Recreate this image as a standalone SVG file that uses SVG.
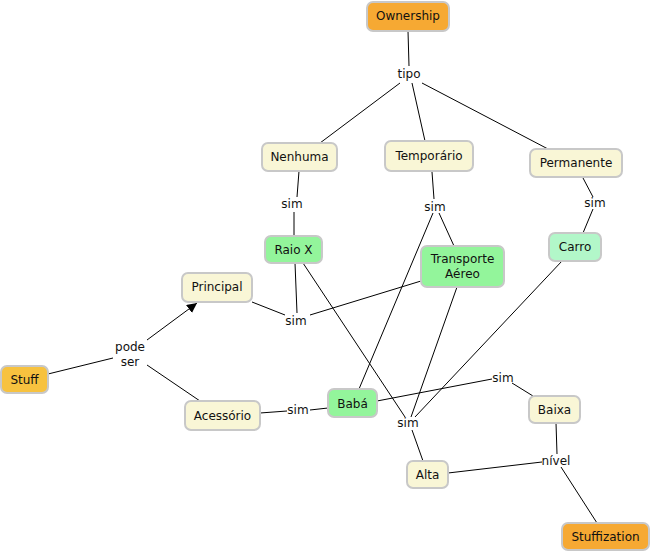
<svg xmlns="http://www.w3.org/2000/svg" width="652" height="552" viewBox="0 0 652 552">
<style>
text{font-family:"DejaVu Sans","Verdana",sans-serif;font-size:12px;fill:#111;text-anchor:middle;dominant-baseline:central}
.n rect{stroke:#c8c8c8;stroke-width:2}
.o rect{fill:#f6a933}
.s rect{fill:#f7c23f}
.y rect{fill:#f9f6d6}
.g rect{fill:#93f59b}
.c rect{fill:#b2f7c9}
#links line{stroke:#000;stroke-width:1}
.lbl{font-size:12px}
</style>
<defs>
<marker id="arr" viewBox="0 0 10 10" refX="10" refY="5" markerWidth="10" markerHeight="10" markerUnits="userSpaceOnUse" orient="auto">
<path d="M0,0 L10,5 L0,10 z" fill="#000"/>
</marker>
</defs>
<rect width="652" height="552" fill="#fff"/>
<g id="links">
<line x1="408" y1="31" x2="409" y2="66"/>
<line x1="400" y1="83" x2="320" y2="143"/>
<line x1="412" y1="83" x2="425" y2="141"/>
<line x1="422" y1="83" x2="548" y2="149"/>
<line x1="299" y1="171" x2="297" y2="197"/>
<line x1="294" y1="212" x2="294" y2="236"/>
<line x1="432" y1="172" x2="434" y2="199"/>
<line x1="439" y1="213" x2="454" y2="246"/>
<line x1="433" y1="213" x2="359" y2="389"/>
<line x1="583" y1="178" x2="593" y2="197"/>
<line x1="593" y1="209" x2="583" y2="233"/>
<line x1="295" y1="263" x2="297" y2="313"/>
<line x1="303" y1="263" x2="405" y2="417"/>
<line x1="252" y1="302" x2="285" y2="315"/>
<line x1="310" y1="315" x2="421" y2="281"/>
<line x1="48" y1="374" x2="113" y2="358"/>
<line x1="147" y1="340" x2="197" y2="303" marker-end="url(#arr)"/>
<line x1="147" y1="365" x2="200" y2="401"/>
<line x1="260" y1="413" x2="287" y2="411"/>
<line x1="310" y1="410" x2="328" y2="408"/>
<line x1="377" y1="401" x2="492" y2="379"/>
<line x1="512" y1="383" x2="533" y2="396"/>
<line x1="457" y1="287" x2="411" y2="417"/>
<line x1="562" y1="261" x2="415" y2="417"/>
<line x1="412" y1="430" x2="423" y2="461"/>
<line x1="448" y1="473" x2="542" y2="462"/>
<line x1="556" y1="423" x2="557" y2="454"/>
<line x1="561" y1="467" x2="597" y2="523"/>
</g>
<g id="labels">
<text x="409" y="74" class="lbl">tipo</text>
<text x="292" y="204" class="lbl">sim</text>
<text x="435" y="207" class="lbl">sim</text>
<text x="595" y="203" class="lbl">sim</text>
<text x="296" y="321" class="lbl">sim</text>
<text x="130" y="347" class="lbl">pode</text>
<text x="130" y="362" class="lbl">ser</text>
<text x="298" y="410" class="lbl">sim</text>
<text x="503" y="378" class="lbl">sim</text>
<text x="408" y="423" class="lbl">sim</text>
<text x="556" y="461" class="lbl">nível</text>
</g>
<g id="ownership" class="n o"><rect x="367" y="2" width="82" height="29" rx="6"/><text x="408" y="16">Ownership</text></g>
<g id="nenhuma" class="n y"><rect x="262" y="143" width="75" height="28" rx="6"/><text x="299.5" y="157">Nenhuma</text></g>
<g id="temporario" class="n y"><rect x="385" y="141" width="88" height="30" rx="6"/><text x="429" y="156">Temporário</text></g>
<g id="permanente" class="n y"><rect x="530" y="149" width="92" height="28" rx="6"/><text x="576" y="163">Permanente</text></g>
<g id="raiox" class="n g"><rect x="265" y="236" width="57" height="27" rx="6"/><text x="293.5" y="250">Raio X</text></g>
<g id="transporte" class="n g"><rect x="421" y="246" width="83" height="41" rx="6"/><text x="462.5" y="259">Transporte</text><text x="462.5" y="274">Aéreo</text></g>
<g id="carro" class="n c"><rect x="549" y="233" width="52" height="28" rx="6"/><text x="575" y="247">Carro</text></g>
<g id="principal" class="n y"><rect x="182" y="273" width="70" height="29" rx="6"/><text x="217" y="287">Principal</text></g>
<g id="stuff" class="n s"><rect x="1" y="366" width="47" height="27" rx="6"/><text x="24.5" y="380">Stuff</text></g>
<g id="acessorio" class="n y"><rect x="185" y="401" width="75" height="29" rx="6"/><text x="222.5" y="416">Acessório</text></g>
<g id="baba" class="n g"><rect x="328" y="389" width="49" height="28" rx="6"/><text x="352.5" y="404">Babá</text></g>
<g id="baixa" class="n y"><rect x="529" y="396" width="51" height="27" rx="6"/><text x="554.5" y="410">Baixa</text></g>
<g id="alta" class="n y"><rect x="407" y="461" width="41" height="27" rx="6"/><text x="427.5" y="475">Alta</text></g>
<g id="stuffization" class="n o"><rect x="562" y="523" width="87" height="27" rx="6"/><text x="605.5" y="537">Stuffization</text></g>
</svg>
